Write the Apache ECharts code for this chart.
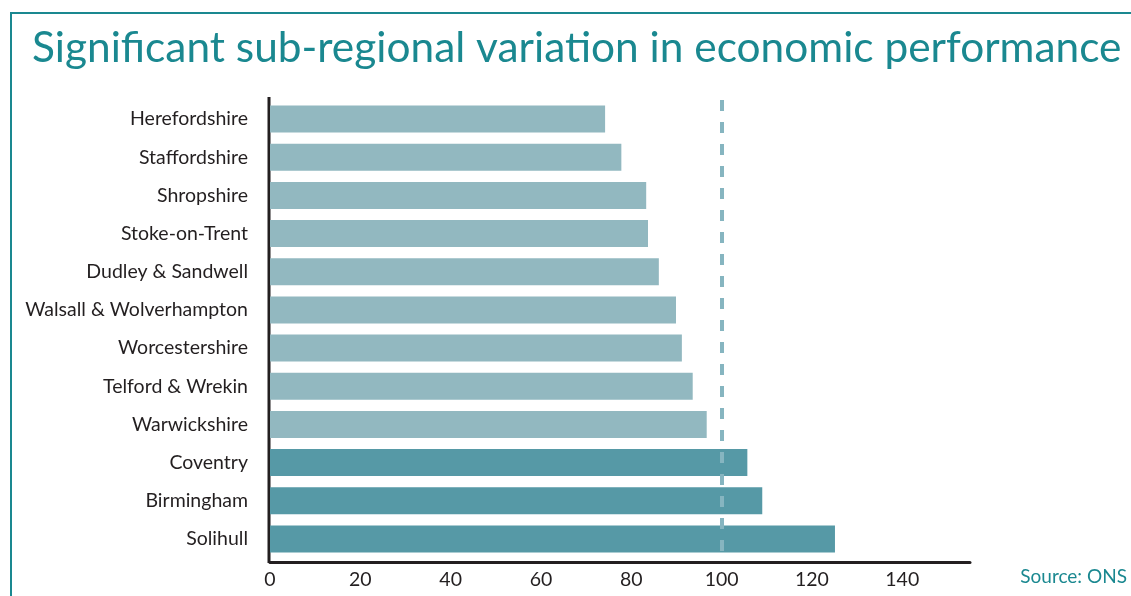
<!DOCTYPE html>
<html><head><meta charset="utf-8">
<script src="https://cdn.jsdelivr.net/npm/echarts@6/dist/echarts.min.js"></script>
<style>html,body{margin:0;padding:0;background:#fff}#c{width:1131px;height:596px}</style>
</head><body><div id="c"></div>
<script>
var categories = ['Herefordshire','Staffordshire','Shropshire','Stoke-on-Trent','Dudley & Sandwell','Walsall & Wolverhampton','Worcestershire','Telford & Wrekin','Warwickshire','Coventry','Birmingham','Solihull'];
var values = [74.2, 77.8, 83.3, 83.7, 86.1, 89.9, 91.2, 93.6, 96.7, 105.7, 109.0, 125.1];
var aboveAverage = [false,false,false,false,false,false,false,false,false,true,true,true];
var xTicks = [0,20,40,60,80,100,120,140];
var referenceValue = 100;

var LIGHT = '#92B8C0', DARK = '#5699A6', TEAL = '#1A8890', INK = '#231F20';
var chart = echarts.init(document.getElementById('c'));
chart.setOption({
  animation: false,
  title: {
    text: 'Significant sub-regional variation in economic performance',
    left: 27, top: 22,
    textStyle: {color: TEAL, fontSize: 42.4, fontWeight: 'normal', fontFamily: 'Lato'}
  },
  graphic: [
    {type: 'polyline', shape: {points: [[11, 600], [11, 13], [1140, 13]]},
     style: {stroke: TEAL, lineWidth: 2, fill: null}},
    {type: 'line', shape: {x1: 269, y1: 97, x2: 269, y2: 563},
     style: {stroke: INK, lineWidth: 3}},
    {type: 'text', right: 4, top: 567,
     style: {text: 'Source: ONS', fill: TEAL, fontSize: 19, fontFamily: 'Lato'}}
  ],
  grid: {left: 270, right: 161, top: 100, bottom: 38, containLabel: false},
  xAxis: {
    type: 'value', min: 0, max: 155, interval: 20, offset: 4,
    axisLine: {show: true, lineStyle: {color: INK, width: 3}},
    axisTick: {show: false}, splitLine: {show: false},
    axisLabel: {color: INK, fontSize: 19.5, fontFamily: 'Lato', margin: 8,
      formatter: function (v) { return xTicks.indexOf(v) >= 0 ? String(v) : ''; }}
  },
  yAxis: {
    type: 'category', data: categories, inverse: true,
    axisLine: {show: false},
    axisTick: {show: false},
    axisLabel: {color: INK, fontSize: 19.5, fontFamily: 'Lato', margin: 22}
  },
  series: [{
    type: 'bar', barWidth: 27,
    data: values.map(function (v, i) {
      return {value: v, itemStyle: {color: aboveAverage[i] ? DARK : LIGHT}};
    }),
    markLine: {
      silent: true, symbol: 'none', label: {show: false},
      lineStyle: {color: '#86B5C0', width: 4, type: [11, 11]},
      data: [{xAxis: referenceValue}]
    }
  }]
});
</script></body></html>
